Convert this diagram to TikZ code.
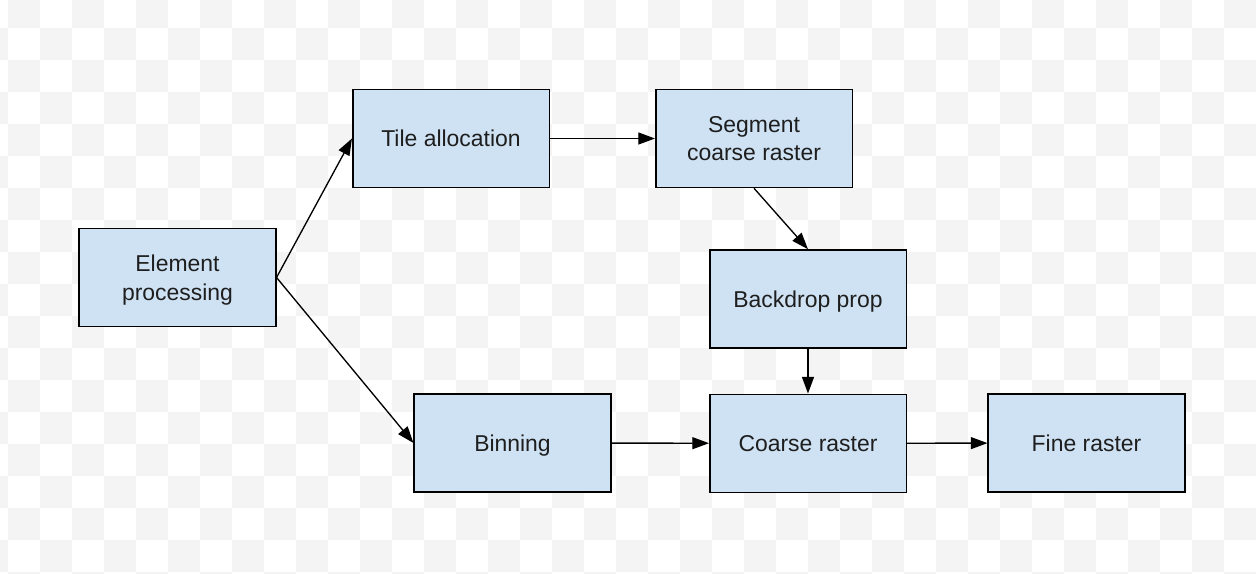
\documentclass[tikz,border=0pt]{standalone}
\usepackage{fontspec}
\setmainfont{Liberation Sans}
\usetikzlibrary{arrows.meta}
\definecolor{boxfill}{HTML}{CFE2F3}
\definecolor{chk}{HTML}{F4F4F4}
\definecolor{txt}{HTML}{1E1E1E}
\tikzset{
  stagebox/.style={draw=black, line width=1.15pt, fill=boxfill, text=txt,
    minimum width=147.4pt, minimum height=73.5pt, align=center, inner sep=2pt,
    font=\fontsize{17.2}{21.3}\selectfont},
  oneline/.style={stagebox, text height=12.3pt, text depth=0pt},
  twoline/.style={stagebox, text depth=-1.2pt},
  flow/.style={draw=black, line width=1pt, -{Triangle[length=12.5pt,width=9pt]}}
}
\begin{document}
\begin{tikzpicture}[x=0.75pt,y=-0.75pt]
\useasboundingbox (0,0) rectangle (1256,574);
\begin{scope}
  \clip (0,0) rectangle (1256,574);
  \fill[white] (0,0) rectangle (1256,574);
  \foreach \i in {-1,...,38} {
    \foreach \j in {-1,...,17} {
      \pgfmathparse{int(mod(\i+\j+2,2))}
      \ifnum\pgfmathresult=1
        \fill[chk] (8+32*\i,28+32*\j) rectangle ++(32,32);
      \fi
    }
  }
\end{scope}
\node[twoline] (ep)  at (177.5,277.5) {Element\\processing};
\node[oneline] (ta)  at (451,138.5)   {Tile allocation};
\node[twoline] (scr) at (754,138.5)   {Segment\\coarse raster};
\node[oneline] (bp)  at (808,299)     {Backdrop prop};
\node[oneline] (bin) at (512.5,443)   {Binning};
\node[oneline] (cr)  at (808,443.3)   {Coarse raster};
\node[oneline] (fr)  at (1086.5,443)  {Fine raster};
\draw[flow] (ep.east) -- (ta.west);
\draw[flow] (ep.east) -- (bin.west);
\draw[flow] (ta) -- (scr);
\draw[flow] (scr.south) -- (bp.north);
\draw[flow] (bp) -- (cr);
\draw[flow] (bin) -- (cr);
\draw[flow] (cr) -- (fr);
\end{tikzpicture}
\end{document}
